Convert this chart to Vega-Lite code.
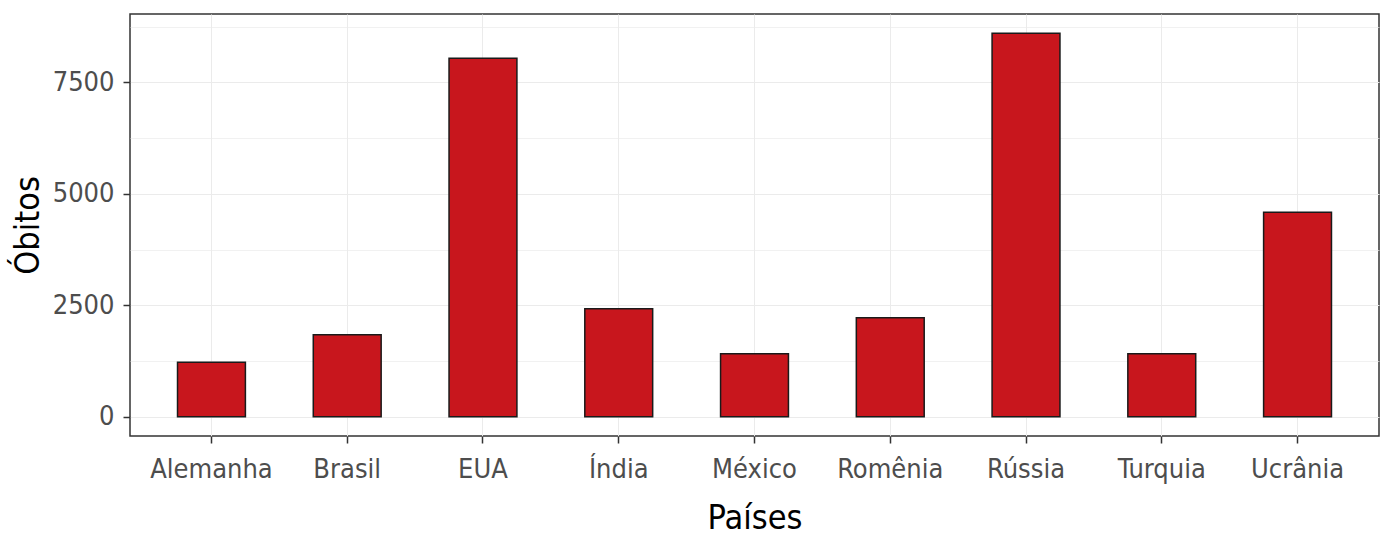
{
  "$schema": "https://vega.github.io/schema/vega-lite/v6.json",
  "width": 1249,
  "height": 422,
  "autosize": {"type": "none"},
  "padding": {"left": 130, "top": 14, "right": 2, "bottom": 100},
  "background": "white",
  "config": {
    "view": {"stroke": "#333333", "strokeWidth": 1.5},
    "font": "DejaVu Sans Condensed, Roboto, sans-serif"
  },
  "data": {
    "values": [
      {"pais": "Alemanha", "obitos": 1225},
      {"pais": "Brasil", "obitos": 1840},
      {"pais": "EUA", "obitos": 8040},
      {"pais": "Índia", "obitos": 2425},
      {"pais": "México", "obitos": 1415},
      {"pais": "Romênia", "obitos": 2220},
      {"pais": "Rússia", "obitos": 8600},
      {"pais": "Turquia", "obitos": 1415},
      {"pais": "Ucrânia", "obitos": 4590}
    ]
  },
  "mark": {"type": "bar", "color": "#C8161D", "stroke": "#1a1a1a", "strokeWidth": 1.5},
  "encoding": {
    "x": {
      "field": "pais",
      "type": "nominal",
      "sort": null,
      "scale": {"paddingInner": 0.5, "paddingOuter": 0.35},
      "axis": {
        "title": "Países",
        "titleFont": "DejaVu Sans Condensed, Roboto, sans-serif",
        "titleFontSize": 34,
        "titleFontWeight": "normal",
        "titleColor": "#000000",
        "titlePadding": 19,
        "labelAngle": 0,
        "labelFont": "DejaVu Sans Condensed, Roboto, sans-serif",
        "labelFontSize": 27,
        "labelColor": "#4D4D4D",
        "labelPadding": 13,
        "tickColor": "#333333",
        "tickSize": 7,
        "tickWidth": 1.5,
        "domain": false,
        "grid": true,
        "gridColor": "#EBEBEB",
        "gridWidth": 1,
        "bandPosition": 0.5
      }
    },
    "y": {
      "field": "obitos",
      "type": "quantitative",
      "scale": {"domain": [-430, 9033], "nice": false, "zero": false},
      "axis": {
        "title": "Óbitos",
        "titleFont": "DejaVu Sans Condensed, Roboto, sans-serif",
        "titleFontSize": 34,
        "titleFontWeight": "normal",
        "titleColor": "#000000",
        "titlePadding": 7,
        "values": [0, 1250, 2500, 3750, 5000, 6250, 7500, 8750],
        "labelExpr": "datum.value % 2500 === 0 ? datum.value : ''",
        "labelFont": "DejaVu Sans Condensed, Roboto, sans-serif",
        "labelFontSize": 27,
        "labelColor": "#4D4D4D",
        "labelPadding": 9,
        "tickColor": "#333333",
        "tickOpacity": {"condition": {"test": "datum.value % 2500 === 0", "value": 1}, "value": 0},
        "tickSize": 7,
        "tickWidth": 1.5,
        "domain": false,
        "grid": true,
        "gridColor": "#EBEBEB",
        "gridWidth": {"condition": {"test": "datum.value % 2500 === 0", "value": 1.2}, "value": 0.7}
      }
    }
  }
}
